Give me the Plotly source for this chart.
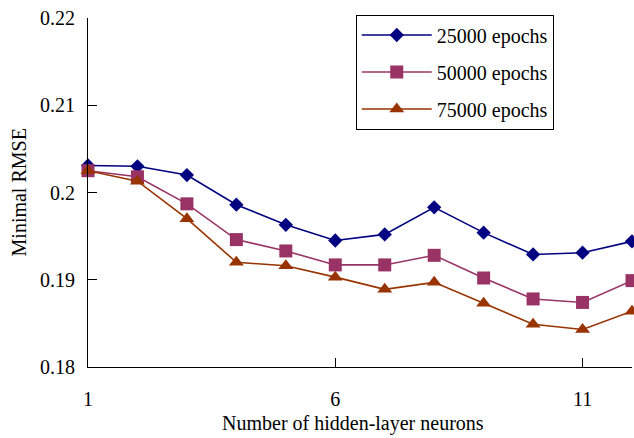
import plotly.graph_objects as go

neurons = list(range(1, 13))
rmse_25000 = [0.2031, 0.2030, 0.2020, 0.1986, 0.1963, 0.1945, 0.1952, 0.1983, 0.1954, 0.1929, 0.1931, 0.1944]
rmse_50000 = [0.2025, 0.2018, 0.1987, 0.1946, 0.1933, 0.1917, 0.1917, 0.1928, 0.1902, 0.1878, 0.1874, 0.1899]
rmse_75000 = [0.2025, 0.2013, 0.1970, 0.1920, 0.1916, 0.1903, 0.1889, 0.1897, 0.1873, 0.1849, 0.1843, 0.1864]
series_names = ["25000 epochs", "50000 epochs", "75000 epochs"]
x_ticks = [1, 6, 11]
y_ticks = [0.18, 0.19, 0.20, 0.21, 0.22]
y_ticktext = ["0.18", "0.19", "0.2", "0.21", "0.22"]

FONT = "Liberation Serif, Times New Roman, serif"
FS = 20
colors = ["#000080", "#993366", "#993300"]
symbols = ["diamond", "square", "triangle-up"]
sizes = [11, 13, 13]

fig = go.Figure()
for i, (name, vals) in enumerate(zip(series_names, [rmse_25000, rmse_50000, rmse_75000])):
    fig.add_trace(go.Scatter(
        x=neurons, y=vals, name=name, mode="lines+markers",
        line=dict(color=colors[i], width=1.6),
        marker=dict(symbol=symbols[i], size=sizes[i], color=colors[i]),
        cliponaxis=False, legendgroup=f"g{i}",
    ))

fig.update_layout(
    width=634, height=438,
    margin=dict(l=88, r=1.5, t=17.5, b=71.3),
    paper_bgcolor="white", plot_bgcolor="white",
    font=dict(family=FONT, size=FS, color="black"),
    showlegend=True,
    legend=dict(
        x=(356 - 88) / 544.5, y=(366.7 - 14) / 349.2, xanchor="left", yanchor="top",
        bordercolor="black", borderwidth=1, bgcolor="white",
        font=dict(family=FONT, size=FS),
        itemwidth=70, tracegroupgap=8,
        entrywidth=211, entrywidthmode="pixels",
    ),
)
fig.update_xaxes(
    range=[1, 12], tickmode="array", tickvals=x_ticks,
    ticks="inside", ticklen=9, tickcolor="black", tickwidth=1,
    showline=True, linecolor="black", linewidth=1.2,
    showgrid=False, zeroline=False, ticklabelstandoff=14,
)
fig.update_yaxes(
    range=[0.18, 0.22], tickmode="array", tickvals=y_ticks, ticktext=y_ticktext,
    ticks="inside", ticklen=9, tickcolor="black", tickwidth=1,
    showline=True, linecolor="black", linewidth=1.2,
    showgrid=False, zeroline=False, ticklabelstandoff=8,
)
fig.add_annotation(text="Number of hidden-layer neurons", xref="paper", yref="paper",
                   x=(353 - 88) / 544.5, y=-57 / 349.2, xanchor="center", yanchor="middle",
                   showarrow=False, font=dict(family=FONT, size=FS))
fig.add_annotation(text="Minimal RMSE", xref="paper", yref="paper",
                   x=(19 - 88) / 544.5, y=(366.7 - 192) / 349.2, xanchor="center", yanchor="middle",
                   textangle=-90, showarrow=False, font=dict(family=FONT, size=FS))

fig.write_html("out.html")
